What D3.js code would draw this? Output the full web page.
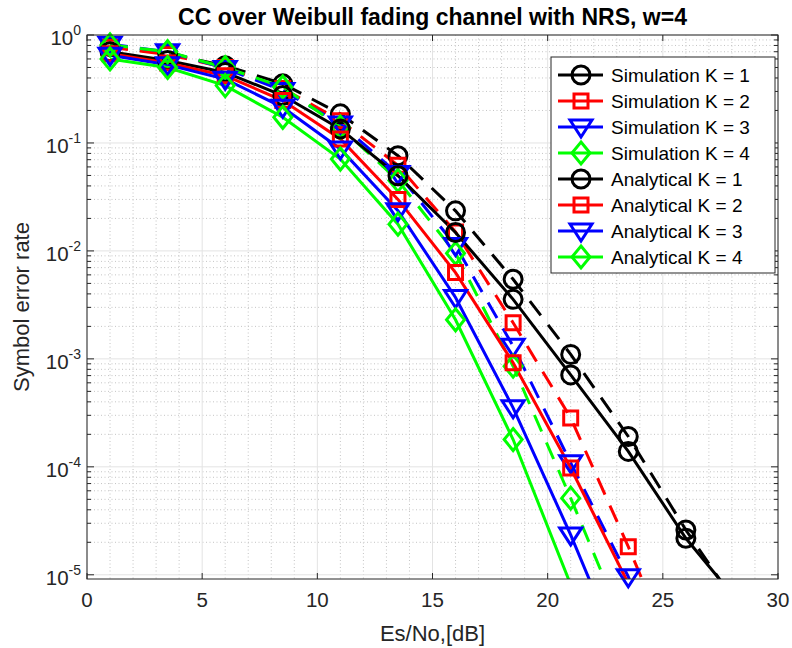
<!DOCTYPE html>
<html>
<head>
<meta charset="utf-8">
<script src="https://cdn.jsdelivr.net/npm/d3@7"></script>
<style>
  body { margin: 0; background: #fff; }
  text { font-family: "Liberation Sans", Arial, Helvetica, sans-serif; fill: #262626; }
</style>
</head>
<body>
<svg id="chart" width="792" height="648"></svg>
<script>
// Es/No points (dB)
var snr = [1, 3.5, 6, 8.5, 11, 13.5, 16, 18.5, 21, 23.5, 26, 28.5];

// simulated SER (dashed)
var simK1 = [0.78, 0.67, 0.52, 0.353, 0.186, 0.0762, 0.0235, 0.00546, 0.00110, 1.91e-4, 2.6e-5, 4.3e-6];
var simK2 = [0.77, 0.66, 0.50, 0.32, 0.161, 0.062, 0.0150, 0.00216, 2.84e-4, 1.82e-5, 1.0e-6];
var simK3 = [0.82, 0.70, 0.49, 0.306, 0.150, 0.052, 0.0112, 0.00131, 1.09e-4, 9.6e-6, 5e-7];
var simK4 = [0.81, 0.70, 0.50, 0.33, 0.140, 0.045, 0.0095, 8.55e-4, 5.13e-5, 2.7e-6];

// analytical SER (solid)
var anaK1 = [0.70, 0.58, 0.45, 0.275, 0.135, 0.0497, 0.0148, 0.00356, 7.1e-4, 1.39e-4, 2.18e-5, 4.9e-6];
var anaK2 = [0.67, 0.55, 0.42, 0.247, 0.109, 0.030, 0.0063, 9.2e-4, 9.75e-5, 8.3e-6];
var anaK3 = [0.65, 0.53, 0.39, 0.214, 0.088, 0.0236, 0.0037, 3.52e-4, 2.34e-5, 1.24e-6];
var anaK4 = [0.60, 0.50, 0.34, 0.173, 0.071, 0.0177, 0.0023, 1.79e-4, 8.1e-6];

var legendLabels = ["Simulation K = 1", "Simulation K = 2", "Simulation K = 3", "Simulation K = 4",
                    "Analytical K = 1", "Analytical K = 2", "Analytical K = 3", "Analytical K = 4"];
var xTicks = [0, 5, 10, 15, 20, 25, 30];
var yTickExp = [0, -1, -2, -3, -4, -5];

var colors = ["#000000", "#ff0000", "#0000ff", "#00ff00"];
var shapes = ["circle", "square", "triangle", "diamond"];

var series = [];
[simK1, simK2, simK3, simK4].forEach(function(v, i) {
    series.push({name: legendLabels[i], values: v, color: colors[i], shape: shapes[i], dashed: true});
});
[anaK1, anaK2, anaK3, anaK4].forEach(function(v, i) {
    series.push({name: legendLabels[i + 4], values: v, color: colors[i], shape: shapes[i], dashed: false});
});

var margin = {top: 35, right: 14, bottom: 69, left: 87},
    width = 792 - margin.left - margin.right,
    height = 648 - margin.top - margin.bottom;

var svg = d3.select("#chart")
    .append("g")
    .attr("transform", "translate(" + margin.left + "," + margin.top + ")");

var x = d3.scaleLinear().domain([0, 30]).range([0, width]);
var yMin = Math.pow(10, -5.039);
var y = d3.scaleLog().domain([yMin, 1]).range([height, 0]);

// minor grid
var minorX = d3.range(0, 31).filter(function(d) { return d % 5 != 0; });
svg.append("g").selectAll("line").data(minorX).enter().append("line")
    .attr("x1", function(d) { return x(d); }).attr("x2", function(d) { return x(d); })
    .attr("y1", 0).attr("y2", height)
    .attr("stroke", "#c4c4c4").attr("stroke-width", 1).attr("stroke-dasharray", "1,2.5");

var minorY = [];
for (var e = -6; e < 0; e++) {
    for (var m = 2; m <= 9; m++) {
        var v = m * Math.pow(10, e);
        if (v > yMin && v < 1) minorY.push(v);
    }
}
svg.append("g").selectAll("line").data(minorY).enter().append("line")
    .attr("x1", 0).attr("x2", width)
    .attr("y1", function(d) { return y(d); }).attr("y2", function(d) { return y(d); })
    .attr("stroke", "#c4c4c4").attr("stroke-width", 1).attr("stroke-dasharray", "1,2.5");

// major grid
svg.append("g").selectAll("line").data(xTicks).enter().append("line")
    .attr("x1", function(d) { return x(d); }).attr("x2", function(d) { return x(d); })
    .attr("y1", 0).attr("y2", height)
    .attr("stroke", "#e3e3e3").attr("stroke-width", 1);
svg.append("g").selectAll("line").data(yTickExp).enter().append("line")
    .attr("x1", 0).attr("x2", width)
    .attr("y1", function(d) { return y(Math.pow(10, d)); }).attr("y2", function(d) { return y(Math.pow(10, d)); })
    .attr("stroke", "#e3e3e3").attr("stroke-width", 1);

// clip lines to the axes box
svg.append("clipPath").attr("id", "clip")
    .append("rect").attr("width", width).attr("height", height);

var line = d3.line()
    .x(function(d) { return x(d.x); })
    .y(function(d) { return y(d.y); });

series.forEach(function(s) {
    s.points = s.values.map(function(v, i) { return {x: snr[i], y: v}; });
});

svg.append("g").attr("clip-path", "url(#clip)")
    .selectAll("path").data(series).enter().append("path")
    .attr("fill", "none")
    .attr("stroke", function(d) { return d.color; })
    .attr("stroke-width", 3)
    .attr("stroke-dasharray", function(d) { return d.dashed ? "18,12" : null; })
    .attr("d", function(d) { return line(d.points); });

function markerPath(shape) {
    if (shape == "circle") return "M-9,0A9,9 0 1,0 9,0A9,9 0 1,0 -9,0Z";
    if (shape == "square") return "M-7,-7H7V7H-7Z";
    if (shape == "triangle") return "M-11,-7H11L0,10Z";
    return "M0,-11L9,0L0,11L-9,0Z";
}

// markers (only where the centre lies inside the axes)
series.forEach(function(s) {
    svg.append("g").selectAll("path")
        .data(s.points.filter(function(p) { return p.y >= yMin && p.y <= 1; }))
        .enter().append("path")
        .attr("transform", function(p) { return "translate(" + x(p.x) + "," + y(p.y) + ")"; })
        .attr("d", markerPath(s.shape))
        .attr("fill", "none")
        .attr("stroke", s.color)
        .attr("stroke-width", 3);
});

// axes box and ticks
var axisColor = "#262626";
svg.append("rect").attr("width", width).attr("height", height)
    .attr("fill", "none").attr("stroke", axisColor).attr("stroke-width", 1);

xTicks.forEach(function(t) {
    svg.append("line").attr("x1", x(t)).attr("x2", x(t)).attr("y1", height).attr("y2", height - 6)
        .attr("stroke", axisColor);
    svg.append("line").attr("x1", x(t)).attr("x2", x(t)).attr("y1", 0).attr("y2", 6)
        .attr("stroke", axisColor);
    svg.append("text").attr("x", x(t)).attr("y", height + 28)
        .attr("text-anchor", "middle").attr("font-size", "20.5px").text(t);
});

yTickExp.forEach(function(t) {
    var yy = y(Math.pow(10, t));
    svg.append("line").attr("x1", 0).attr("x2", 7).attr("y1", yy).attr("y2", yy).attr("stroke", axisColor);
    svg.append("line").attr("x1", width).attr("x2", width - 7).attr("y1", yy).attr("y2", yy).attr("stroke", axisColor);
    var lab = svg.append("text").attr("x", -6).attr("y", yy + 10)
        .attr("text-anchor", "end").attr("font-size", "20.5px");
    lab.append("tspan").text("10");
    lab.append("tspan").attr("dy", -10).attr("font-size", "14px").text(t);
});

minorY.forEach(function(v) {
    var yy = y(v);
    svg.append("line").attr("x1", 0).attr("x2", 4).attr("y1", yy).attr("y2", yy).attr("stroke", axisColor);
    svg.append("line").attr("x1", width).attr("x2", width - 4).attr("y1", yy).attr("y2", yy).attr("stroke", axisColor);
});

// title and axis labels
svg.append("text").attr("x", width / 2).attr("y", -10)
    .attr("text-anchor", "middle").attr("font-size", "23px").attr("font-weight", "bold")
    .style("fill", "#000")
    .text("CC over Weibull fading channel with NRS, w=4");

svg.append("text").attr("x", width / 2).attr("y", height + 62)
    .attr("text-anchor", "middle").attr("font-size", "22px")
    .text("Es/No,[dB]");

svg.append("text")
    .attr("transform", "translate(-58," + (height / 2) + ") rotate(-90)")
    .attr("text-anchor", "middle").attr("font-size", "22px")
    .text("Symbol error rate");

// legend
var lx = 551 - margin.left, ly = 57 - margin.top, lw = 224, lh = 216, rowH = 26;
var legend = svg.append("g").attr("transform", "translate(" + lx + "," + ly + ")");
legend.append("rect").attr("width", lw).attr("height", lh)
    .attr("fill", "#fff").attr("stroke", axisColor).attr("stroke-width", 1);

series.forEach(function(s, i) {
    var cy = 18 + i * rowH;
    legend.append("line").attr("x1", 7).attr("x2", 52).attr("y1", cy).attr("y2", cy)
        .attr("stroke", s.color).attr("stroke-width", 3);
    legend.append("path").attr("transform", "translate(30," + cy + ")")
        .attr("d", markerPath(s.shape))
        .attr("fill", "none").attr("stroke", s.color).attr("stroke-width", 3);
    legend.append("text").attr("x", 60).attr("y", cy + 7)
        .attr("font-size", "19px").style("fill", "#000").text(s.name);
});
</script>
</body>
</html>
